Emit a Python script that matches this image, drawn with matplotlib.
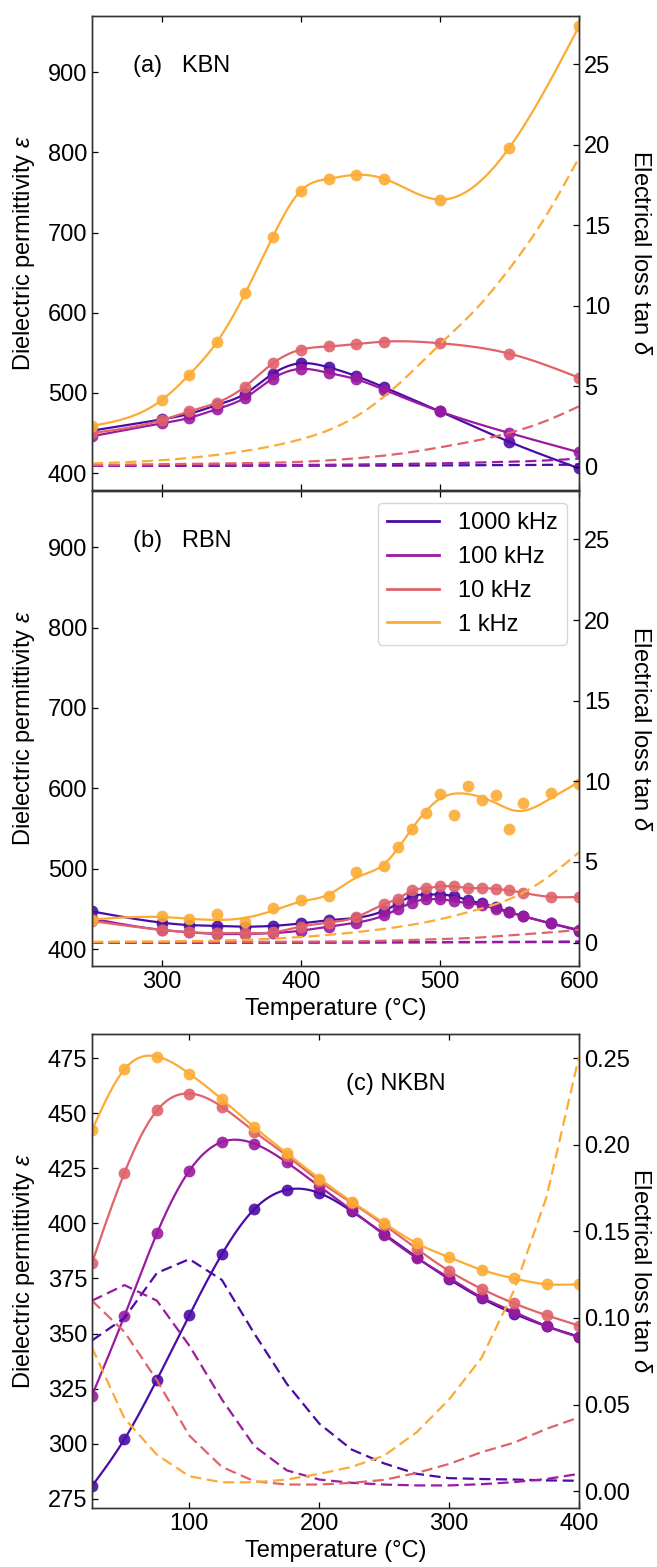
import numpy as np
import matplotlib
matplotlib.use('Agg')
import matplotlib.pyplot as plt
from matplotlib.lines import Line2D

plt.rcParams['font.family'] = ['Liberation Sans', 'DejaVu Sans']
plt.rcParams['font.size'] = 17
plt.rcParams['mathtext.fontset'] = 'custom'
plt.rcParams['mathtext.rm'] = 'Liberation Sans'
plt.rcParams['mathtext.it'] = 'Liberation Sans:italic'
plt.rcParams['axes.edgecolor'] = '#333333'
plt.rcParams['axes.linewidth'] = 1.0

# ---- data ----
freqs = ['1000 kHz', '100 kHz', '10 kHz', '1 kHz']
colors = ['#4a0ca6', '#9a1aa0', '#e0626a', '#fcab35']

# (a) KBN permittivity
T_a = [250, 300, 320, 340, 360, 380, 400, 420, 440, 460, 500, 550, 600]
kbn_1000k = [453, 467, 474, 485, 499, 524, 537, 532, 521, 507, 477, 439, 406]
kbn_100k = [446, 462, 469, 480, 494, 518, 530, 525, 517, 504, 477, 450, 426]
kbn_10k = [450, 466, 477, 488, 508, 537, 554, 558, 561, 564, 562, 549, 519]
kbn_1k = [459, 491, 523, 564, 624, 695, 752, 767, 772, 767, 741, 806, 957]

# (a) KBN loss
T_loss_a = [250, 300, 350, 400, 425, 450, 475, 500, 525, 550, 575, 600]
kbn_loss_1000k = [0.05, 0.05, 0.05, 0.06, 0.06, 0.07, 0.07, 0.08, 0.09, 0.1, 0.11, 0.13]
kbn_loss_100k = [0.05, 0.06, 0.08, 0.1, 0.12, 0.14, 0.17, 0.2, 0.25, 0.3, 0.38, 0.5]
kbn_loss_10k = [0.1, 0.15, 0.2, 0.3, 0.42, 0.6, 0.85, 1.2, 1.6, 2.1, 2.8, 3.75]
kbn_loss_1k = [0.2, 0.4, 0.85, 1.7, 2.45, 3.7, 5.5, 7.6, 9.7, 12.3, 15.4, 19.2]

# (b) RBN permittivity
T_b = [250, 300, 320, 340, 360, 380, 400, 420, 440, 460, 470, 480, 490, 500,
       510, 520, 530, 540, 550, 560, 580, 600]
rbn_1000k = [447, 433, 430, 429, 428, 429, 432, 436, 439, 448, 457, 466, 468, 468,
             466, 461, 457, 452, 446, 441, 432, 423]
rbn_100k = [438, 424, 421, 419, 419, 420, 423, 428, 433, 442, 450, 458, 462, 462,
            460, 457, 455, 450, 446, 441, 432, 424]
rbn_10k = [435, 424, 421, 420, 420, 421, 428, 433, 440, 456, 463, 473, 476, 478,
           478, 476, 476, 475, 473, 470, 465, 465]
rbn_1k = [436, 441, 438, 444, 434, 451, 461, 466, 496, 503, 527, 550, 570, 593,
          567, 603, 586, 592, 550, 582, 594, 606]
# smoothed trend of the 1 kHz RBN data
T_b_fit = [250, 300, 360, 380, 400, 420, 440, 460, 480, 500, 520, 540, 555, 580, 600]
rbn_1k_fit = [437, 440, 439, 448, 459, 468, 489, 506, 550, 587, 593, 582, 572, 588, 608]

# (b) RBN loss
T_loss_b = [250, 300, 350, 400, 450, 500, 525, 550, 575, 600]
rbn_loss_1000k = [0.0, 0.0, 0.0, 0.01, 0.01, 0.02, 0.02, 0.03, 0.03, 0.04]
rbn_loss_100k = [0.0, 0.0, 0.01, 0.01, 0.02, 0.03, 0.04, 0.05, 0.06, 0.08]
rbn_loss_10k = [0.02, 0.03, 0.04, 0.06, 0.1, 0.22, 0.3, 0.45, 0.6, 0.8]
rbn_loss_1k = [0.05, 0.08, 0.15, 0.35, 0.75, 1.45, 2.0, 2.7, 3.9, 5.6]

# (c) NKBN permittivity
T_c = [25, 50, 75, 100, 125, 150, 175, 200, 225, 250, 275, 300, 325, 350, 375, 400]
nkbn_1000k = [280.7, 302, 329, 358.4, 386, 406.5, 415.3, 413.8, 405.5, 395.2, 384.6,
              374.7, 366, 359, 353.3, 348.6]
nkbn_100k = [321.8, 358, 395.5, 424, 437, 436.2, 427.7, 416.9, 406, 394.8, 384.3,
             375.3, 366.5, 359.8, 353.3, 348.3]
nkbn_10k = [382, 423, 451.3, 459, 453, 441.7, 430.8, 419.2, 409.4, 399.3, 388.5,
            378.4, 370.3, 363.7, 358.3, 353.6]
nkbn_1k = [442.4, 470, 475.8, 468, 456.4, 443.7, 431.9, 420.4, 409.9, 400.1, 391,
           384.6, 378.9, 375, 372.4, 372.4]

# (c) NKBN loss
nkbn_loss_1000k = [0.087, 0.100, 0.126, 0.134, 0.122, 0.091, 0.062, 0.039, 0.024, 0.016,
                   0.010, 0.0075, 0.007, 0.0067, 0.0062, 0.006]
nkbn_loss_100k = [0.110, 0.119, 0.110, 0.084, 0.053, 0.026, 0.012, 0.0067, 0.0048, 0.0038,
                  0.0033, 0.0033, 0.004, 0.0052, 0.007, 0.010]
nkbn_loss_10k = [0.110, 0.092, 0.064, 0.032, 0.014, 0.0057, 0.0038, 0.0038, 0.0048, 0.0065,
                 0.0105, 0.0157, 0.0225, 0.028, 0.036, 0.0426]
nkbn_loss_1k = [0.083, 0.042, 0.021, 0.0086, 0.0051, 0.0051, 0.0067, 0.010, 0.014, 0.0205,
                0.034, 0.053, 0.077, 0.116, 0.17, 0.251]


def spline(x, y, n=400):
    # natural cubic spline, only used to draw smooth curves through the data
    x = np.asarray(x, float)
    y = np.asarray(y, float)
    h = np.diff(x)
    m = len(x)
    A = np.zeros((m, m))
    b = np.zeros(m)
    A[0, 0] = A[-1, -1] = 1
    for i in range(1, m - 1):
        A[i, i - 1] = h[i - 1]
        A[i, i] = 2 * (h[i - 1] + h[i])
        A[i, i + 1] = h[i]
        b[i] = 3 * ((y[i + 1] - y[i]) / h[i] - (y[i] - y[i - 1]) / h[i - 1])
    c = np.linalg.solve(A, b)
    xs = np.linspace(x[0], x[-1], n)
    idx = np.clip(np.searchsorted(x, xs) - 1, 0, m - 2)
    dx = xs - x[idx]
    bb = (y[1:] - y[:-1]) / h - h * (2 * c[:-1] + c[1:]) / 3
    d = (c[1:] - c[:-1]) / (3 * h)
    ys = y[idx] + bb[idx] * dx + c[idx] * dx ** 2 + d[idx] * dx ** 3
    return xs, ys


def style(ax, ax2):
    ax.tick_params(direction='in', top=True, right=False, length=4.5, width=0.9)
    ax2.tick_params(direction='in', length=4.5, width=0.9)
    ax.set_ylabel('Dielectric permittivity $\\varepsilon$', va='center')
    ax.yaxis.set_label_coords(-0.14, 0.5)
    ax2.set_ylabel('Electrical loss tan $\\delta$', rotation=270, va='center')
    ax2.yaxis.set_label_coords(1.125, 0.5)


fig = plt.figure(figsize=(6.57, 15.67), dpi=100)
ax_a = fig.add_axes([0.140, 0.6873, 0.7413, 0.3025])
ax_b = fig.add_axes([0.140, 0.3835, 0.7413, 0.3032])
ax_c = fig.add_axes([0.140, 0.0377, 0.7413, 0.3024])

panels = [
    (ax_a, T_a, [kbn_1000k, kbn_100k, kbn_10k, kbn_1k],
     T_loss_a, [kbn_loss_1000k, kbn_loss_100k, kbn_loss_10k, kbn_loss_1k]),
    (ax_b, T_b, [rbn_1000k, rbn_100k, rbn_10k, rbn_1k],
     T_loss_b, [rbn_loss_1000k, rbn_loss_100k, rbn_loss_10k, rbn_loss_1k]),
]

twins = []
for k, (ax, T, eps, Tl, loss) in enumerate(panels):
    ax2 = ax.twinx()
    twins.append(ax2)
    for i in range(4):
        if k == 1 and i == 3:
            xs, ys = spline(T_b_fit, rbn_1k_fit)
        else:
            xs, ys = spline(T, eps[i])
        ax.plot(xs, ys, color=colors[i], lw=1.6)
        ax.plot(T, eps[i], 'o', color=colors[i], ms=8.5, alpha=0.9, mec='none')
        xs, ys = spline(Tl, loss[i])
        ax2.plot(xs, ys, '--', color=colors[i], lw=1.6, dashes=(5, 2.5))
    ax.set_xlim(250, 600)
    ax.set_ylim(379, 970)
    ax.set_yticks([400, 500, 600, 700, 800, 900])
    ax.set_xticks([300, 400, 500, 600])
    ax2.set_ylim(-1.45, 28)
    ax2.set_yticks([0, 5, 10, 15, 20, 25])
    style(ax, ax2)

ax_a.tick_params(labelbottom=False)
ax_b.set_xlabel('Temperature (°C)')
ax_a.text(0.084, 0.894, '(a)   KBN', transform=ax_a.transAxes, va='center')
ax_b.text(0.084, 0.894, '(b)   RBN', transform=ax_b.transAxes, va='center')

handles = [Line2D([], [], color=c, lw=2) for c in colors]
twins[1].legend(handles, freqs, loc='upper right', handlelength=2.2, handletextpad=0.8)

# (c) NKBN
ax_c2 = ax_c.twinx()
eps_c = [nkbn_1000k, nkbn_100k, nkbn_10k, nkbn_1k]
loss_c = [nkbn_loss_1000k, nkbn_loss_100k, nkbn_loss_10k, nkbn_loss_1k]
for i in range(4):
    xs, ys = spline(T_c, eps_c[i])
    ax_c.plot(xs, ys, color=colors[i], lw=1.6)
    ax_c.plot(T_c, eps_c[i], 'o', color=colors[i], ms=8.5, alpha=0.9, mec='none')
    ax_c2.plot(T_c, loss_c[i], '--', color=colors[i], lw=1.6, dashes=(5, 2.5))
ax_c.set_xlim(25, 400)
ax_c.set_ylim(270.8, 486)
ax_c.set_yticks([275, 300, 325, 350, 375, 400, 425, 450, 475])
ax_c.set_xticks([100, 200, 300, 400])
ax_c2.set_ylim(-0.0097, 0.264)
ax_c2.set_yticks([0, 0.05, 0.10, 0.15, 0.20, 0.25])
ax_c2.set_yticklabels(['0.00', '0.05', '0.10', '0.15', '0.20', '0.25'])
style(ax_c, ax_c2)
ax_c.set_xlabel('Temperature (°C)')
ax_c.text(0.521, 0.894, '(c) NKBN', transform=ax_c.transAxes, va='center')

fig.savefig('out.png', dpi=100)
